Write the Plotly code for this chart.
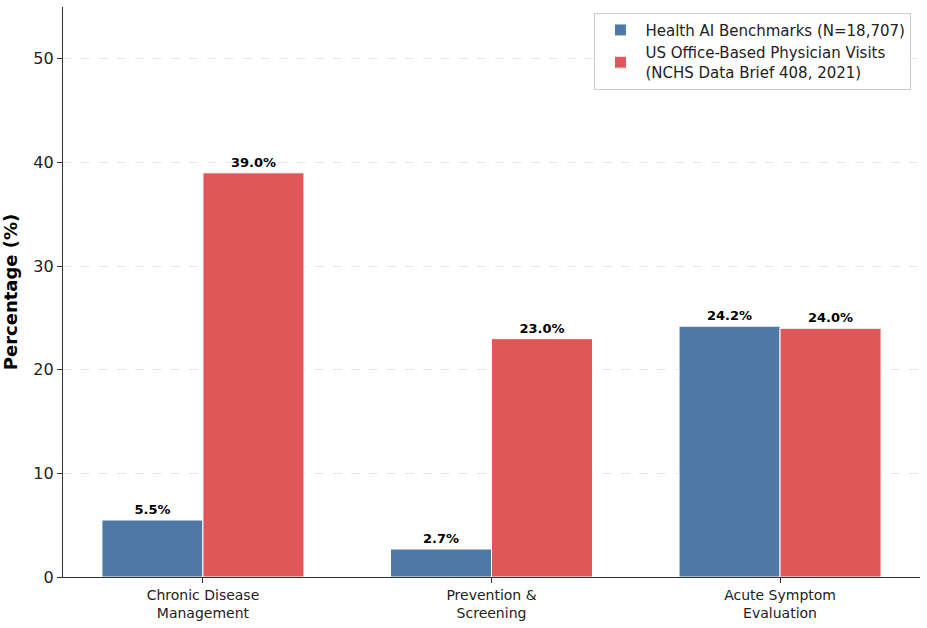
import plotly.graph_objects as go

categories = ["Chronic Disease<br>Management", "Prevention &<br>Screening", "Acute Symptom<br>Evaluation"]
ai_values = [5.5, 2.7, 24.2]
nchs_values = [39.0, 23.0, 24.0]
ai_name = "Health AI Benchmarks (N=18,707)"
nchs_name = "US Office-Based Physician Visits<br>(NCHS Data Brief 408, 2021)"
y_ticks = [0, 10, 20, 30, 40, 50]

FONT = "DejaVu Sans"

fig = go.Figure()
fig.add_trace(go.Bar(
    x=categories, y=ai_values, name=ai_name,
    marker=dict(color="#4e79a7", line=dict(color="white", width=1)),
    text=[f"{v:.1f}%" for v in ai_values], textposition="outside",
    textfont=dict(family=FONT, size=13, color="black", weight="bold"),
    cliponaxis=False,
))
fig.add_trace(go.Bar(
    x=categories, y=nchs_values, name=nchs_name,
    marker=dict(color="#e15759", line=dict(color="white", width=1)),
    text=[f"{v:.1f}%" for v in nchs_values], textposition="outside",
    textfont=dict(family=FONT, size=13, color="black", weight="bold"),
    cliponaxis=False,
))

fig.update_layout(
    width=927, height=628,
    margin=dict(l=63, r=7, t=7, b=48),
    paper_bgcolor="white", plot_bgcolor="white",
    barmode="group", bargap=0.3, bargroupgap=0,
    font=dict(family=FONT, color="#222"),
    legend=dict(
        x=0.99, y=0.99, xanchor="right", yanchor="top",
        bgcolor="white", bordercolor="#cccccc", borderwidth=1,
        font=dict(family=FONT, size=15, color="#222"),
        tracegroupgap=0, itemwidth=40,
    ),
    showlegend=True,
)
fig.update_xaxes(
    range=[-0.485, 2.485],
    showline=True, linecolor="#333", linewidth=1.2,
    ticks="outside", ticklen=5, tickcolor="#333",
    tickfont=dict(family=FONT, size=14, color="#222"),
    showgrid=False,
)
fig.update_yaxes(
    range=[0, 55],
    tickvals=y_ticks,
    showline=True, linecolor="#333", linewidth=1.2,
    ticks="outside", ticklen=5, tickcolor="#333",
    tickfont=dict(family=FONT, size=16, color="#222"),
    showgrid=True, gridcolor="#e6e6e6", griddash="dash", gridwidth=1,
    zeroline=False,
    title=dict(text="<b>Percentage (%)</b>", font=dict(family=FONT, size=18, color="black"), standoff=12),
)

fig.write_html("out.html")
